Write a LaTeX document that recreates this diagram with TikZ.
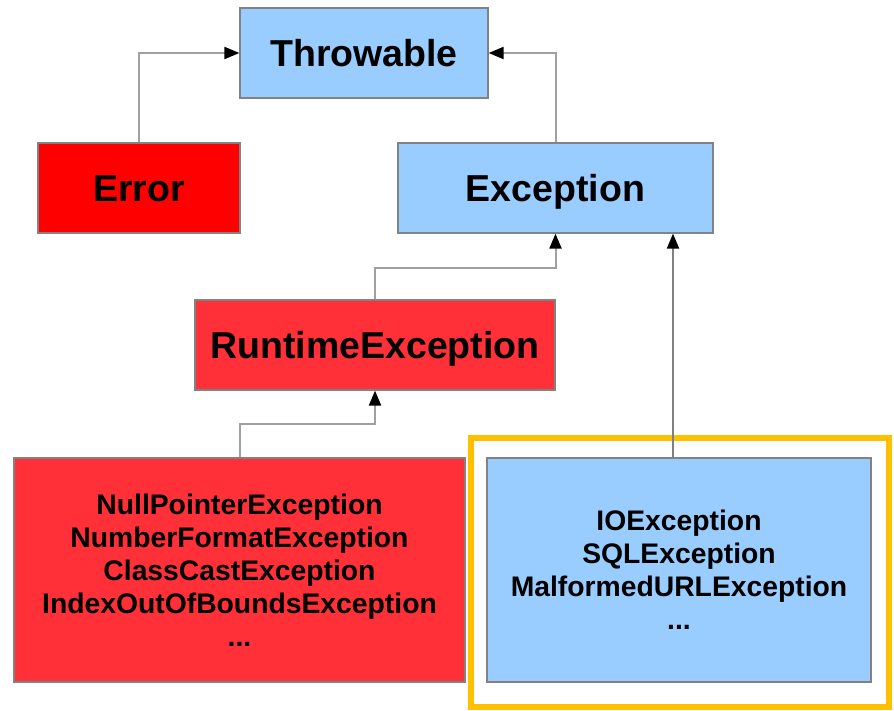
\documentclass[tikz,border=0pt]{standalone}
\usepackage{fontspec}
\setmainfont{Liberation Sans}
\usetikzlibrary{arrows.meta}
\definecolor{lblue}{RGB}{153,204,255}
\definecolor{pred}{RGB}{255,0,0}
\definecolor{mred}{RGB}{255,48,56}
\definecolor{ybord}{RGB}{255,192,0}
\definecolor{bord}{RGB}{130,130,130}
\definecolor{conn}{RGB}{160,160,160}
\begin{document}
\begin{tikzpicture}[x=1pt,y=-1pt,
  box/.style={draw=bord,line width=1.2pt,inner sep=0pt,align=center,font=\bfseries},
  big/.style={box,font=\fontsize{37.5}{40}\selectfont\bfseries,text height=26.8pt,text depth=0pt},
  small/.style={box,font=\fontsize{28.3}{33}\selectfont\bfseries},
  arr/.style={draw=conn,line width=2pt,-{Triangle[length=15pt,width=12pt,fill=black,color=black]}}]
\useasboundingbox[fill=white] (0,0) rectangle (894,711);
\node[big,fill=lblue,minimum width=248pt,minimum height=90pt] (thr) at (364,53) {Throwable};
\node[big,fill=pred,minimum width=202pt,minimum height=90pt] (err) at (139,188) {Error};
\node[big,fill=lblue,minimum width=315pt,minimum height=90pt] (exc) at (555.5,188) {Exception};
\node[big,fill=mred,minimum width=360pt,minimum height=90pt] (rte) at (375,345) {RuntimeException};
\node[small,fill=mred,minimum width=451pt,minimum height=224pt] (rt) at (239.5,570) {NullPointerException\\NumberFormatException\\ClassCastException\\IndexOutOfBoundsException\\...};
\node[draw=ybord,line width=6pt,minimum width=418pt,minimum height=269pt,inner sep=0pt] (ybox) at (680,572.5) {};
\node[small,fill=lblue,minimum width=384pt,minimum height=224pt] (blu) at (679,570) {IOException\\SQLException\\MalformedURLException\\...};
\coordinate (bt) at (673,458);
\draw[arr] (err.north) |- (thr.west);
\draw[arr] (exc.north) |- (thr.east);
\draw[arr] (rte.north) -- (rte.north |- 0,268) -| (exc.south);
\draw[arr] (rt.north) -- (rt.north |- 0,424) -| (rte.south);
\draw[arr,draw=gray] (bt) -- (bt |- exc.south);
\end{tikzpicture}
\end{document}
